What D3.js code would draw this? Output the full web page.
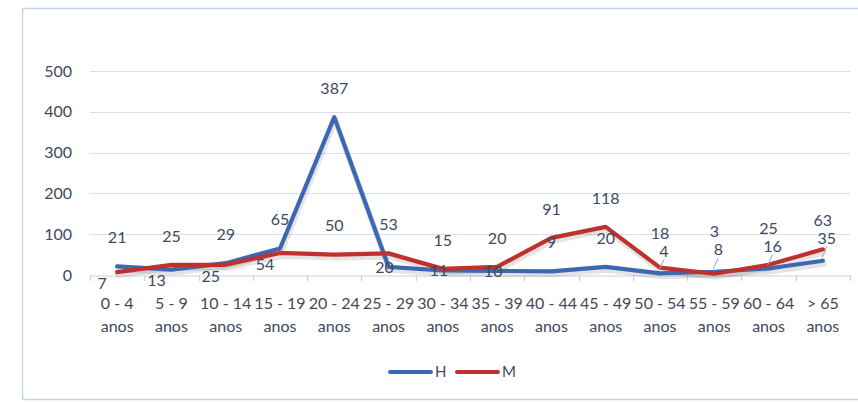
<!DOCTYPE html>
<html>
<head>
<meta charset="utf-8">
<script src="https://cdn.jsdelivr.net/npm/d3@7/dist/d3.min.js"></script>
<style>
  html, body { margin: 0; padding: 0; background: #ffffff; }
  svg { display: block; font-family: Lato, "Open Sans", sans-serif; }
</style>
</head>
<body>
<svg id="chart" width="858" height="403"></svg>
<script>
// ---- data ----
const categories = ["0 - 4", "5 - 9", "10 - 14", "15 - 19", "20 - 24", "25 - 29", "30 - 34",
                    "35 - 39", "40 - 44", "45 - 49", "50 - 54", "55 - 59", "60 - 64", "> 65"];
const categorySuffix = "anos";
const seriesNames = ["H", "M"];
const valuesH = [21, 13, 29, 65, 387, 20, 11, 10, 9, 20, 4, 8, 16, 35];
const valuesM = [7, 25, 25, 54, 50, 53, 15, 20, 91, 118, 18, 3, 25, 63];
const yTicks = [0, 100, 200, 300, 400, 500];
// label placement keywords (t = above, b = below-left, c = centred, tl = above with leader line)
const labelPlaceH = ["t", "b", "t", "t", "t", "c", "c", "c", "t", "t", "tl", "tl", "tl", "tl"];
const labelPlaceM = ["b", "t", "b", "b", "t", "t", "t", "t", "t", "t", "t", "t", "t", "t"];

// ---- layout ----
const svg = d3.select("#chart");
const colors = { H: "#3B68B0", M: "#C0302D" };
const textColor = "#3D4A5C";
const plot = { left: 90, right: 850, top: 71, bottom: 275 };

const x = d3.scaleBand().domain(categories).range([plot.left, plot.right]).paddingInner(0).paddingOuter(0);
const y = d3.scaleLinear().domain([0, 500]).range([plot.bottom, plot.top]);
const cx = c => x(c) + x.bandwidth() / 2;

// chart area border
svg.append("rect")
  .attr("x", 22.5).attr("y", 8.5).attr("width", 860).attr("height", 391)
  .attr("fill", "#ffffff").attr("stroke", "#C6D6EA").attr("stroke-width", 1.5);

// gridlines
svg.append("g").selectAll("line").data(yTicks.filter(t => t > 0)).join("line")
  .attr("x1", plot.left).attr("x2", plot.right)
  .attr("y1", d => Math.round(y(d)) + 0.5).attr("y2", d => Math.round(y(d)) + 0.5)
  .attr("stroke", "#D9DFE8").attr("stroke-width", 1.2);

// y axis labels
const yAxis = d3.axisLeft(y).tickValues(yTicks).tickSize(0).tickPadding(0);
const gy = svg.append("g").attr("transform", `translate(${72},0)`).call(yAxis);
gy.select(".domain").remove();
gy.selectAll("text").attr("fill", textColor).attr("font-size", 16).attr("font-family", "Lato, sans-serif");

// x axis
const gx = svg.append("g").attr("transform", `translate(0,${plot.bottom + 0.5})`)
  .call(d3.axisBottom(x).tickSize(0).tickFormat(""));
gx.select(".domain").attr("stroke", "#CBD2DC").attr("stroke-width", 1.2);
gx.selectAll(".tick").remove();
const boundaries = categories.map(c => x(c)).concat([plot.right]);
svg.append("g").selectAll("line").data(boundaries).join("line")
  .attr("x1", d => Math.round(d) + 0.5).attr("x2", d => Math.round(d) + 0.5)
  .attr("y1", plot.bottom).attr("y2", plot.bottom + 6)
  .attr("stroke", "#CBD2DC").attr("stroke-width", 1.2);

const xl = svg.append("g").selectAll("text").data(categories).join("text")
  .attr("x", d => cx(d)).attr("y", 309)
  .attr("text-anchor", "middle").attr("fill", textColor).attr("font-size", 16);
xl.append("tspan").attr("x", d => cx(d)).attr("dy", 0).text(d => d);
xl.append("tspan").attr("x", d => cx(d)).attr("dy", 23).text(categorySuffix);

// lines
const series = [
  { name: "H", values: valuesH, place: labelPlaceH },
  { name: "M", values: valuesM, place: labelPlaceM }
];
const line = d3.line().x((d, i) => cx(categories[i])).y(d => y(d));

const shadow = svg.append("g").attr("transform", "translate(1,3)");
series.forEach(s => {
  shadow.append("path").datum(s.values).attr("d", line)
    .attr("fill", "none").attr("stroke", "rgba(90,90,90,0.16)")
    .attr("stroke-width", 6).attr("stroke-linejoin", "round").attr("stroke-linecap", "round");
});
series.forEach(s => {
  svg.append("path").datum(s.values).attr("d", line)
    .attr("fill", "none").attr("stroke", colors[s.name])
    .attr("stroke-width", 4.2).attr("stroke-linejoin", "round").attr("stroke-linecap", "round");
});

// data labels
function labelPos(s, i) {
  const px = cx(categories[i]), py = y(s.values[i]);
  const p = s.place[i];
  if (p === "b") return { x: px - 15, y: py + 11 };
  if (p === "c") return { x: px - 4, y: py };
  if (p === "tl") return { x: px + 4, y: py - 22 };
  return { x: px, y: py - 29 };
}
const labels = [];
categories.forEach((c, i) => {
  const a = labelPos(series[0], i), b = labelPos(series[1], i);
  // keep stacked labels apart when they fall on top of each other
  if (series[0].place[i] === "tl" && Math.abs(a.y - b.y) < 18) { b.y = a.y - 18; b.x = a.x - 4; }
  labels.push({ s: series[0], i, ...a });
  labels.push({ s: series[1], i, ...b });
});

// leader lines
svg.append("g").selectAll("line").data(labels.filter(l => l.s.place[l.i] === "tl")).join("line")
  .attr("x1", d => d.x).attr("y1", d => d.y + 8)
  .attr("x2", d => cx(categories[d.i]) - 1).attr("y2", d => y(d.s.values[d.i]) - 3)
  .attr("stroke", "#93A6C0").attr("stroke-width", 1);

svg.append("g").selectAll("text").data(labels).join("text")
  .attr("x", d => d.x).attr("y", d => d.y)
  .attr("dy", "0.36em").attr("text-anchor", "middle")
  .attr("fill", textColor).attr("font-size", 16)
  .text(d => d.s.values[d.i]);

// legend
const legend = svg.append("g");
const legendItems = [
  { name: seriesNames[0], x0: 390 },
  { name: seriesNames[1], x0: 457 }
];
legendItems.forEach(it => {
  legend.append("line").attr("x1", it.x0).attr("x2", it.x0 + 41)
    .attr("y1", 372).attr("y2", 372)
    .attr("stroke", colors[it.name]).attr("stroke-width", 4).attr("stroke-linecap", "round");
  legend.append("text").attr("x", it.x0 + 45).attr("y", 372).attr("dy", "0.36em")
    .attr("fill", textColor).attr("font-size", 15).text(it.name);
});
</script>
</body>
</html>
